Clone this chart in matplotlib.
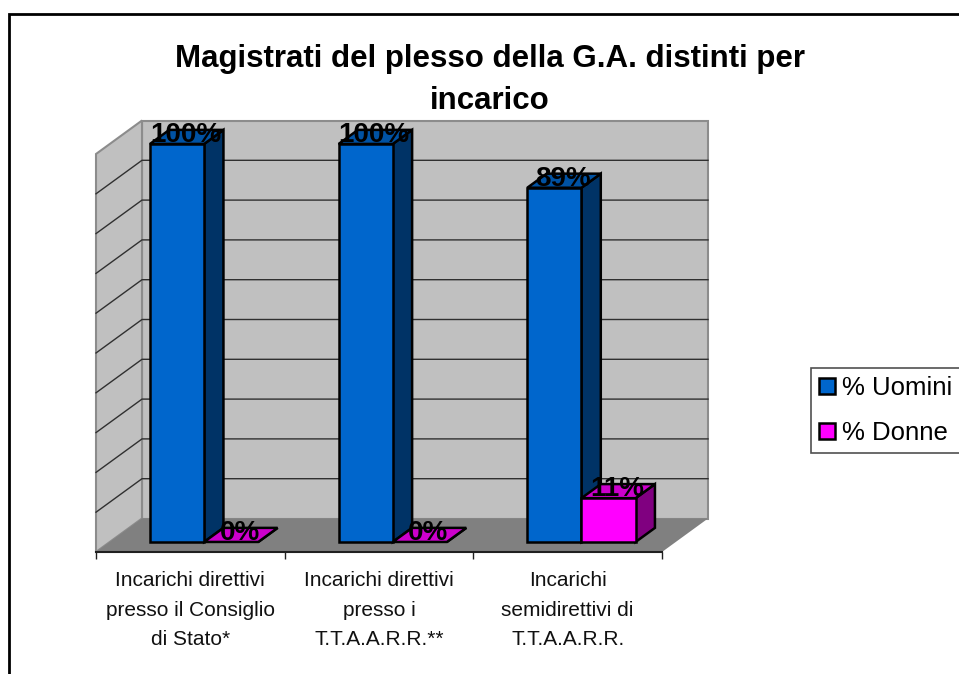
#!/usr/bin/env python3
"""Magistrati del plesso della G.A. - fake 3D clustered columns"""

import matplotlib
matplotlib.use('Agg')
import matplotlib.pyplot as plt
from matplotlib.patches import Patch, Polygon, Rectangle

plt.rcParams['font.family'] = ['Liberation Sans', 'DejaVu Sans']

title = 'Magistrati del plesso della G.A. distinti per\nincarico'
categories = ['Incarichi direttivi\npresso il Consiglio\ndi Stato*',
              'Incarichi direttivi\npresso i\nT.T.A.A.R.R.**',
              'Incarichi\nsemidirettivi di\nT.T.A.A.R.R.']
uomini = [100, 100, 89]
donne = [0, 0, 11]
series_names = ['% Uomini', '% Donne']
grid_values = list(range(0, 101, 10))

W, H = 959, 674
# front plane of the chart box in pixels
LEFT, RIGHT, BOTTOM, TOP = 96, 662, 552, 154
DEPTH_X = 46 / ((RIGHT - LEFT) / 3)  # category units
DEPTH_Y = 33.5 / ((BOTTOM - TOP) / 100)  # percent units
BAR_W = 0.287
GAP = (1 - 2 * BAR_W) / 2

BLUE = ('#0066CC', '#003366', '#0052A3')
MAGENTA = ('#FF00FF', '#800080', '#CC00CC')


def project(x, d, y):
    # d is the depth, 0 = front of the box, 1 = back wall
    return x + d * DEPTH_X, y + d * DEPTH_Y


def poly(ax, pts, color, edge='none', lw=0, z=1):
    xy = [project(*p) for p in pts]
    ax.add_patch(Polygon(xy, closed=True, facecolor=color, edgecolor=edge,
                         linewidth=lw, zorder=z, clip_on=False, joinstyle='miter'))


def draw_bar(ax, x, value, colors, z):
    d0, d1 = 0.30, 0.72
    x1 = x + BAR_W
    lw = 1.8
    poly(ax, [(x1, d0, 0), (x1, d1, 0), (x1, d1, value), (x1, d0, value)], colors[1], 'black', lw, z)
    poly(ax, [(x, d0, value), (x1, d0, value), (x1, d1, value), (x, d1, value)], colors[2], 'black', lw, z)
    if value > 0:
        poly(ax, [(x, d0, 0), (x1, d0, 0), (x1, d0, value), (x, d0, value)], colors[0], 'black', lw, z)


fig = plt.figure(figsize=(W / 100, H / 100), dpi=100)
fig.patch.set_facecolor('white')
fig.add_artist(Rectangle((8.5 / W, -0.02), 1.1, 1 - 13.5 / H + 0.02, transform=fig.transFigure,
                         facecolor='none', edgecolor='black', linewidth=2))

ax = fig.add_axes([LEFT / W, 1 - BOTTOM / H, (RIGHT - LEFT) / W, (BOTTOM - TOP) / H])
ax.set_xlim(0, len(categories))
ax.set_ylim(0, 100)
ax.patch.set_visible(False)
for side in ['top', 'left', 'right']:
    ax.spines[side].set_visible(False)
ax.spines['bottom'].set_linewidth(1.5)
ax.spines['bottom'].set_color('#202020')
ax.set_yticks([])

# walls and floor
n = len(categories)
wall = '#C0C0C0'
edge = '#8C8C8C'
poly(ax, [(0, 1, 0), (n, 1, 0), (n, 1, 100), (0, 1, 100)], wall, edge, 1.5, 1)
poly(ax, [(0, 0, 0), (0, 1, 0), (0, 1, 100), (0, 0, 100)], wall, edge, 1.5, 1)
poly(ax, [(0, 0, 0), (n, 0, 0), (n, 1, 0), (0, 1, 0)], '#808080', 'none', 0, 2)

for g in grid_values[1:-1]:
    x0, y0 = project(0, 0, g)
    x1, y1 = project(0, 1, g)
    x2, y2 = project(n, 1, g)
    ax.plot([x0, x1, x2], [y0, y1, y1], color='#303030', linewidth=1, zorder=1.5, clip_on=False)

# bars, left to right so the magenta top sits over the blue side
for i in range(n):
    x = i + GAP
    draw_bar(ax, x, uomini[i], BLUE, 3 + i)
    draw_bar(ax, x + BAR_W, donne[i], MAGENTA, 3.5 + i)

# data labels
for i in range(n):
    for offs, val in ((0, uomini[i]), (BAR_W, donne[i])):
        lx, ly = project(i + GAP + offs + BAR_W / 2, 0.27, val)
        ax.annotate(f'{val}%', (lx, ly), xytext=(7, 7), textcoords='offset points',
                    ha='center', va='center', fontsize=20, fontweight='bold',
                    color='black', zorder=8, annotation_clip=False)

ax.set_xticks([i + 0.5 for i in range(n)])
ax.set_xticklabels(categories, fontsize=15, linespacing=1.7)
ax.tick_params(axis='x', which='major', length=0, pad=14, colors='#111111')
ax.set_xticks(range(n + 1), minor=True)
ax.tick_params(axis='x', which='minor', length=5, width=1, color='#202020')

fig.text(490 / W, 1 - 80 / H, title, ha='center', va='center', fontsize=22.5,
         fontweight='bold', linespacing=1.55)

handles = [Patch(facecolor=BLUE[0], edgecolor='black', linewidth=1.8),
           Patch(facecolor=MAGENTA[0], edgecolor='black', linewidth=1.8)]
leg = fig.legend(handles, series_names, loc='upper left',
                 bbox_to_anchor=(811 / W, 1 - 368 / H), fontsize=18.5, frameon=True,
                 fancybox=False, edgecolor='#505050', framealpha=1, borderpad=0.32,
                 handlelength=0.6, handleheight=0.6, handletextpad=0.3, labelspacing=0.8,
                 borderaxespad=0)
leg.get_frame().set_linewidth(1.2)

fig.savefig('out.png', dpi=100)
